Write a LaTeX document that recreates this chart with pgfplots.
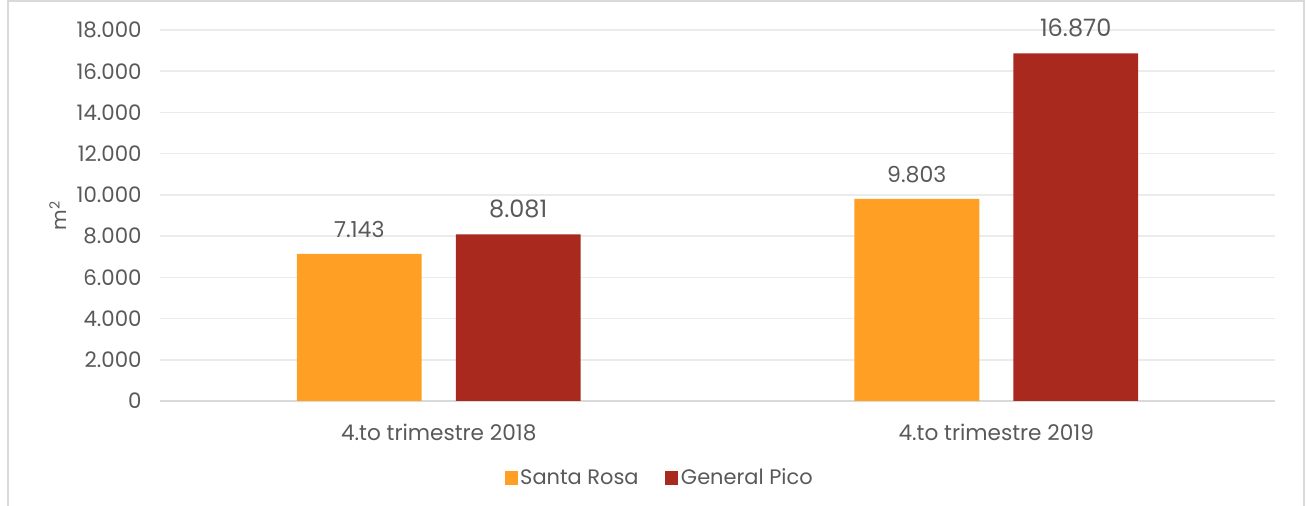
\documentclass[border=0pt]{standalone}
\usepackage{pgfplots}
\pgfplotsset{compat=1.18}
\usepackage{fontspec}
\setmainfont{Poppins}
\definecolor{sr}{HTML}{FFA024}
\definecolor{gp}{HTML}{A9291E}
\definecolor{txt}{HTML}{595959}
\definecolor{gridc}{HTML}{EBEBEB}
\definecolor{framec}{HTML}{D9D9D9}
\begin{document}
\begin{tikzpicture}[x=0.75pt,y=0.75pt]
\useasboundingbox (0,0) rectangle (1306,506);
\draw[color=framec, line width=1.5pt] (8,-5) -- (8,505) -- (1304,505) -- (1304,-5);
\begin{axis}[
  at={(120pt,78.75pt)}, anchor=south west,
  scale only axis, width=836.25pt, height=278.25pt,
  ybar, bar width=0.224,
  xmin=-0.5, xmax=1.5, ymin=0, ymax=18000,
  xtick={0,1}, xticklabels={4.to trimestre 2018,4.to trimestre 2019},
  ytick distance=2000, scaled y ticks=false,
  /pgf/number format/fixed, /pgf/number format/1000 sep={.},
  /pgf/number format/assume math mode=true,
  major tick length=0,
  axis x line=bottom, axis y line=left,
  x axis line style={draw=framec, line width=1.2pt, -},
  y axis line style={draw=none},
  ymajorgrids, grid style={draw=gridc, line width=1.2pt},
  tick label style={color=txt},
  yticklabel style={xshift=-10.25pt, font=\fontsize{16}{18}\selectfont},
  xticklabel style={yshift=-13.5pt, font=\fontsize{16.2}{18}\selectfont},
  ylabel={m\textsuperscript{2}},
  ylabel style={at={(axis description cs:-0.0915,0.5)}, anchor=center, color=txt, font=\fontsize{15}{17}\selectfont},
  nodes near coords,
  legend style={at={(rel axis cs:0.4484,-0.2075)}, anchor=center, draw=none, legend columns=2,
    font=\fontsize{15.7}{17}\selectfont, text=txt, /tikz/every even column/.append style={column sep=18pt}},
  legend image code/.code={\fill[#1] (0pt,-4.9pt) rectangle (9.75pt,4.9pt);},
]
\addplot[fill=sr, draw=none, bar shift=-0.1425,
  nodes near coords style={color=txt, font=\fontsize{16.5}{18}\selectfont, yshift=8.5pt}]
  coordinates {(0,7143) (1,9803)};
\addplot[fill=gp, draw=none, bar shift=0.1425,
  nodes near coords style={color=txt, font=\fontsize{18}{20}\selectfont, yshift=9pt}]
  coordinates {(0,8081) (1,16870)};
\legend{Santa Rosa, General Pico}
\end{axis}
\end{tikzpicture}
\end{document}
